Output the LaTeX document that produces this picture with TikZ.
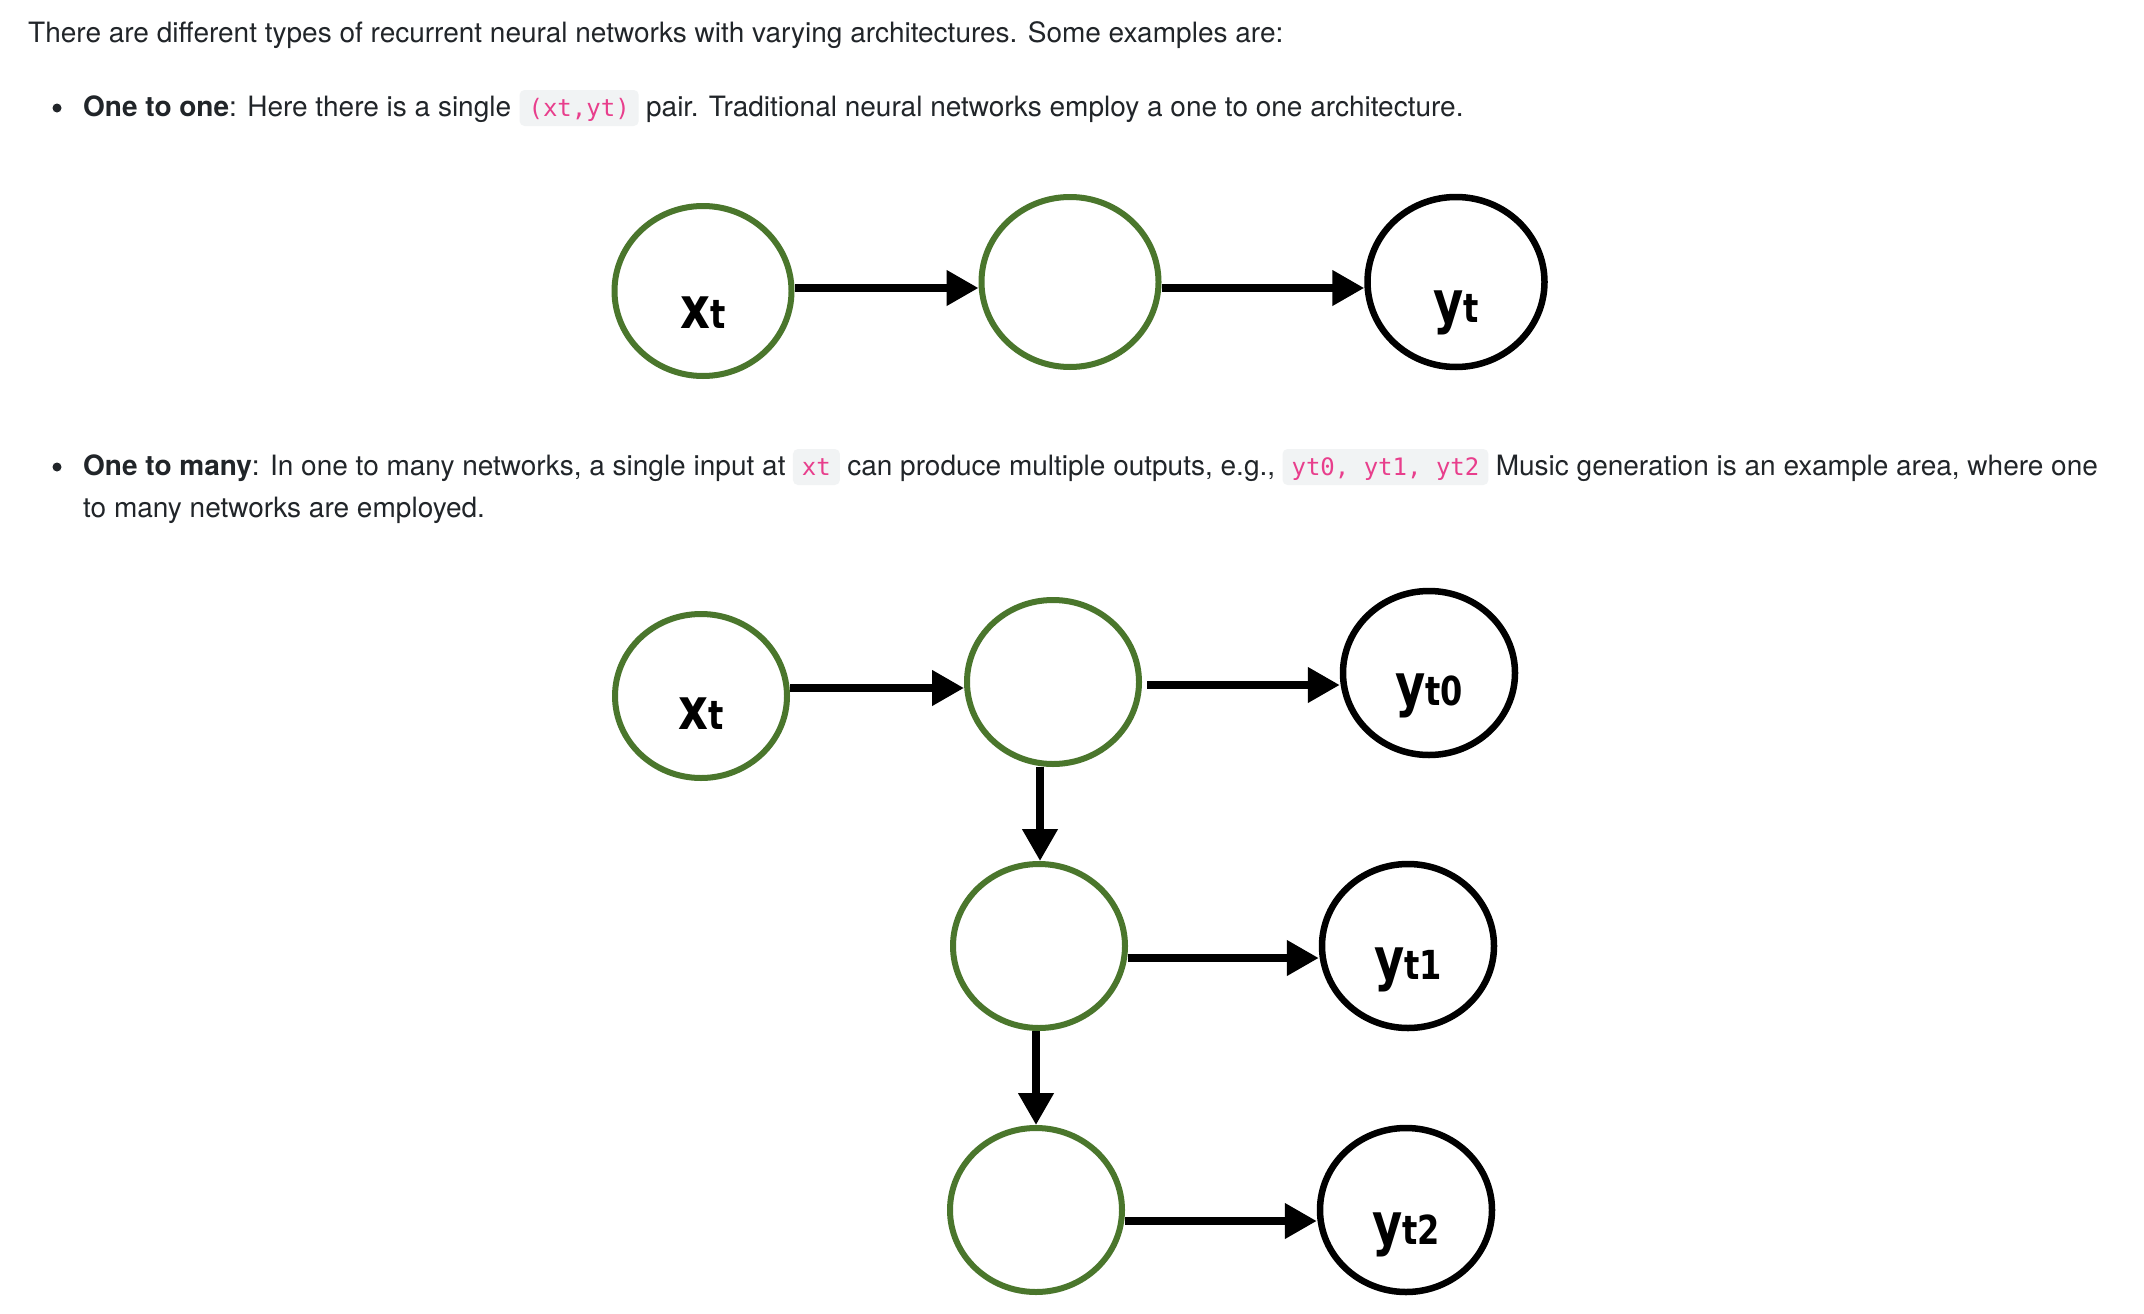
\documentclass[tikz,border=0pt]{standalone}
\usepackage{fontspec}
\setmainfont{TeX Gyre Heros}
\newfontfamily\codefont{DejaVu Sans Mono}
\newfontfamily\handfont{DejaVu Sans}[FakeStretch=0.8]
\usetikzlibrary{arrows.meta,shapes.geometric}

\definecolor{ink}{RGB}{33,37,41}
\definecolor{codefg}{RGB}{232,62,140}
\definecolor{codebg}{RGB}{241,243,244}
\definecolor{cellgreen}{RGB}{74,118,44}

% handwritten-style cell labels: a large letter followed by smaller index marks
\newcommand\hmain[1]{{\fontsize{58}{58}\selectfont #1}}
\newcommand\hsub[1]{{\fontsize{40}{40}\selectfont #1}}

\tikzset{
  txt/.style={anchor=base west, inner sep=0pt, text=ink,
    font=\fontsize{28}{42}\selectfont},
  code/.style={anchor=base west, inner xsep=9pt, inner ysep=0pt,
    text height=26pt, text depth=10pt, fill=codebg, rounded corners=5pt,
    text=codefg, font=\codefont\fontsize{24}{28}\selectfont},
  dot/.style={circle, fill=ink, inner sep=0pt, minimum size=9pt},
  cell/.style={ellipse, draw=cellgreen, line width=6pt, inner sep=0pt},
  outcell/.style={ellipse, draw=black, line width=6.5pt, inner sep=0pt},
  bigcell/.style={minimum width=177pt, minimum height=170pt},
  smallcell/.style={minimum width=172pt, minimum height=164pt},
  conn/.style={line width=7.5pt, -{Triangle[length=32pt,width=34pt]}},
  hand/.style={anchor=base, inner sep=0pt, font=\handfont\bfseries},
}

\begin{document}
\begin{tikzpicture}[x=1pt, y=-1pt]
  \fill[white] (0,0) rectangle (2144,1314);
  \useasboundingbox (0,0) rectangle (2144,1314);

  % ---- introductory text ----
  \node[txt] (intro) at (28,43) {There are different types of recurrent neural networks with varying architectures. Some examples are:};

  \node[dot] (b1) at (57,108) {};
  \node[txt] (l1a) at (83,116) {\textbf{One to one}: Here there is a single};
  \node[code] (l1b) at ([xshift=8pt]l1a.base east) {(xt,yt)};
  \node[txt] (l1c) at ([xshift=7pt]l1b.base east) {pair. Traditional neural networks employ a one to one architecture.};

  % ---- one to one ----
  \node[cell, bigcell] (x1) at (703,291) {};
  \node[cell, bigcell] (h1) at (1070,282) {};
  \node[outcell, bigcell] (y1) at (1456,282) {};
  \node[hand] (x1t) at ([yshift=-37pt]x1.center) {\hmain{x}\hsub{t}};
  \node[hand] (y1t) at ([yshift=-40pt]y1.center) {\hmain{y}\hsub{t}};

  \draw[conn] ([yshift=3pt]x1.east) -- ([yshift=-6pt]h1.west);
  \draw[conn] ([yshift=-6pt]h1.east) -- ([yshift=-6pt]y1.west);

  % ---- second bullet ----
  \node[dot] (b2) at (57,467) {};
  \node[txt] (l2a) at (83,475) {\textbf{One to many}: In one to many networks, a single input at};
  \node[code] (l2b) at ([xshift=7pt]l2a.base east) {xt};
  \node[txt] (l2c) at ([xshift=7pt]l2b.base east) {can produce multiple outputs, e.g.,};
  \node[code] (l2d) at ([xshift=7pt]l2c.base east) {yt0, yt1, yt2};
  \node[txt] (l2e) at ([xshift=7pt]l2d.base east) {Music generation is an example area, where one};
  \node[txt] (l3) at (83,517) {to many networks are employed.};

  % ---- one to many ----
  \node[cell, smallcell] (x2) at (701,696) {};
  \node[cell, smallcell] (h20) at (1053,682) {};
  \node[outcell, smallcell] (y20) at (1429,673) {};
  \node[cell, smallcell] (h21) at (1039,946) {};
  \node[outcell, smallcell] (y21) at (1408,946) {};
  \node[cell, smallcell] (h22) at (1036,1210) {};
  \node[outcell, smallcell] (y22) at (1406,1210) {};

  \node[hand] (x2t) at ([yshift=-33pt]x2.center) {\hmain{x}\hsub{t}};
  \node[hand] (y20t) at ([yshift=-32pt]y20.center) {\hmain{y}\hsub{t0}};
  \node[hand] (y21t) at ([yshift=-33pt]y21.center) {\hmain{y}\hsub{t1}};
  \node[hand] (y22t) at ([yshift=-34pt]y22.center) {\hmain{y}\hsub{t2}};

  \draw[conn] ([yshift=8pt]x2.east) -- ([yshift=-6pt]h20.west);
  \draw[conn] ([xshift=5pt,yshift=-3pt]h20.east) -- ([yshift=-12pt]y20.west);
  \draw[conn] ([xshift=-13pt]h20.south) -- ([xshift=1pt]h21.north);
  \draw[conn] ([yshift=-12pt]h21.east) -- ([yshift=-12pt]y21.west);
  \draw[conn] ([xshift=-3pt]h21.south) -- (h22.north);
  \draw[conn] ([yshift=-11pt]h22.east) -- ([yshift=-11pt]y22.west);
\end{tikzpicture}
\end{document}
